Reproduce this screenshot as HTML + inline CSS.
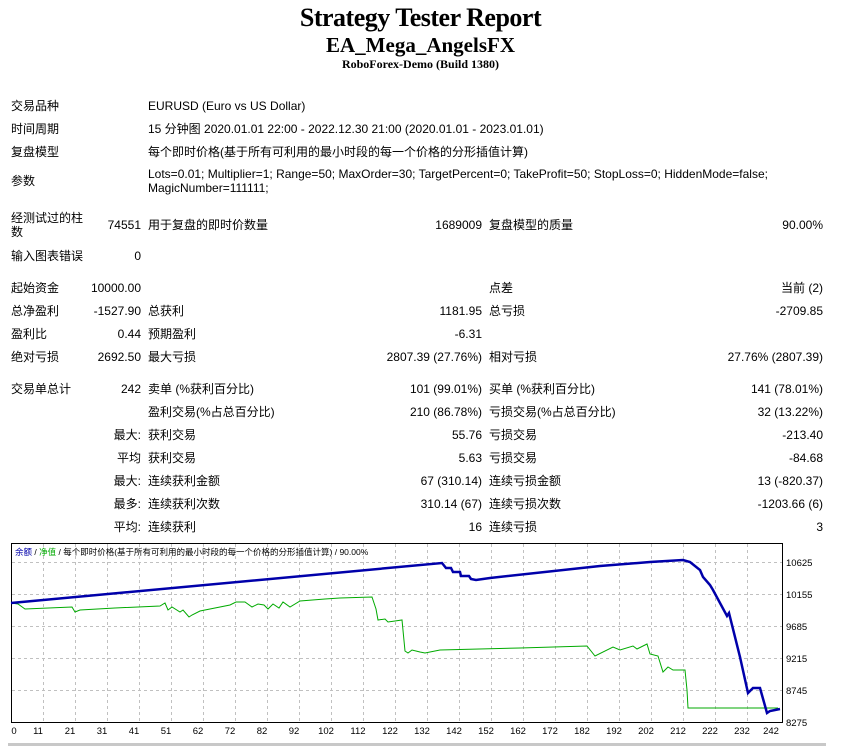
<!DOCTYPE html>
<html><head><meta charset="utf-8">
<style>
body{margin:0;width:841px;height:746px;background:#fff;position:relative;overflow:hidden;font-family:"Liberation Sans","Noto Sans CJK SC",sans-serif;font-size:12px;color:#000}
.l{position:absolute;white-space:nowrap;line-height:14px}
.r{position:absolute;white-space:nowrap;line-height:14px;text-align:right}
.h{position:absolute;left:0;width:841px;text-align:center;font-family:"Liberation Serif",serif;font-weight:bold}
</style></head><body>
<div class="h" style="top:3px;font-size:26px;line-height:30px;letter-spacing:-0.5px">Strategy Tester Report</div>
<div class="h" style="top:33px;font-size:21px;line-height:24px">EA_Mega_AngelsFX</div>
<div class="h" style="top:57px;font-size:12px;line-height:15px">RoboForex-Demo (Build 1380)</div>

<div class="l" style="left:11px;top:99px">交易品种</div><div class="l" style="left:148px;top:99px">EURUSD (Euro vs US Dollar)</div>
<div class="l" style="left:11px;top:122px">时间周期</div><div class="l" style="left:148px;top:122px">15 分钟图 2020.01.01 22:00 - 2022.12.30 21:00 (2020.01.01 - 2023.01.01)</div>
<div class="l" style="left:11px;top:145px">复盘模型</div><div class="l" style="left:148px;top:145px">每个即时价格(基于所有可利用的最小时段的每一个价格的分形插值计算)</div>
<div class="l" style="left:11px;top:174px">参数</div><div class="l" style="left:148px;top:167px">Lots=0.01; Multiplier=1; Range=50; MaxOrder=30; TargetPercent=0; TakeProfit=50; StopLoss=0; HiddenMode=false;<br>MagicNumber=111111;</div>

<div class="l" style="left:11px;top:211px">经测试过的柱<br>数</div><div class="r" style="right:700px;top:218px">74551</div>
<div class="l" style="left:148px;top:218px">用于复盘的即时价数量</div><div class="r" style="right:359px;top:218px">1689009</div>
<div class="l" style="left:489px;top:218px">复盘模型的质量</div><div class="r" style="right:18px;top:218px">90.00%</div>
<div class="l" style="left:11px;top:249px">输入图表错误</div><div class="r" style="right:700px;top:249px">0</div>

<div class="l" style="left:11px;top:281px">起始资金</div><div class="r" style="right:700px;top:281px">10000.00</div>
<div class="l" style="left:489px;top:281px">点差</div><div class="r" style="right:18px;top:281px">当前 (2)</div>
<div class="l" style="left:11px;top:304px">总净盈利</div><div class="r" style="right:700px;top:304px">-1527.90</div>
<div class="l" style="left:148px;top:304px">总获利</div><div class="r" style="right:359px;top:304px">1181.95</div>
<div class="l" style="left:489px;top:304px">总亏损</div><div class="r" style="right:18px;top:304px">-2709.85</div>
<div class="l" style="left:11px;top:327px">盈利比</div><div class="r" style="right:700px;top:327px">0.44</div>
<div class="l" style="left:148px;top:327px">预期盈利</div><div class="r" style="right:359px;top:327px">-6.31</div>
<div class="l" style="left:11px;top:350px">绝对亏损</div><div class="r" style="right:700px;top:350px">2692.50</div>
<div class="l" style="left:148px;top:350px">最大亏损</div><div class="r" style="right:359px;top:350px">2807.39 (27.76%)</div>
<div class="l" style="left:489px;top:350px">相对亏损</div><div class="r" style="right:18px;top:350px">27.76% (2807.39)</div>

<div class="l" style="left:11px;top:382px">交易单总计</div><div class="r" style="right:700px;top:382px">242</div>
<div class="l" style="left:148px;top:382px">卖单 (%获利百分比)</div><div class="r" style="right:359px;top:382px">101 (99.01%)</div>
<div class="l" style="left:489px;top:382px">买单 (%获利百分比)</div><div class="r" style="right:18px;top:382px">141 (78.01%)</div>
<div class="l" style="left:148px;top:405px">盈利交易(%占总百分比)</div><div class="r" style="right:359px;top:405px">210 (86.78%)</div>
<div class="l" style="left:489px;top:405px">亏损交易(%占总百分比)</div><div class="r" style="right:18px;top:405px">32 (13.22%)</div>
<div class="r" style="right:700px;top:428px">最大:</div><div class="l" style="left:148px;top:428px">获利交易</div><div class="r" style="right:359px;top:428px">55.76</div>
<div class="l" style="left:489px;top:428px">亏损交易</div><div class="r" style="right:18px;top:428px">-213.40</div>
<div class="r" style="right:700px;top:451px">平均</div><div class="l" style="left:148px;top:451px">获利交易</div><div class="r" style="right:359px;top:451px">5.63</div>
<div class="l" style="left:489px;top:451px">亏损交易</div><div class="r" style="right:18px;top:451px">-84.68</div>
<div class="r" style="right:700px;top:474px">最大:</div><div class="l" style="left:148px;top:474px">连续获利金额</div><div class="r" style="right:359px;top:474px">67 (310.14)</div>
<div class="l" style="left:489px;top:474px">连续亏损金额</div><div class="r" style="right:18px;top:474px">13 (-820.37)</div>
<div class="r" style="right:700px;top:497px">最多:</div><div class="l" style="left:148px;top:497px">连续获利次数</div><div class="r" style="right:359px;top:497px">310.14 (67)</div>
<div class="l" style="left:489px;top:497px">连续亏损次数</div><div class="r" style="right:18px;top:497px">-1203.66 (6)</div>
<div class="r" style="right:700px;top:520px">平均:</div><div class="l" style="left:148px;top:520px">连续获利</div><div class="r" style="right:359px;top:520px">16</div>
<div class="l" style="left:489px;top:520px">连续亏损</div><div class="r" style="right:18px;top:520px">3</div>

<svg style="position:absolute;left:0;top:0" width="841" height="746">
<g stroke="#c0c0c0" stroke-dasharray="3,3" stroke-width="1">
<line x1="12" y1="562.5" x2="782" y2="562.5"/><line x1="12" y1="594.5" x2="782" y2="594.5"/><line x1="12" y1="626.5" x2="782" y2="626.5"/><line x1="12" y1="658.5" x2="782" y2="658.5"/><line x1="12" y1="690.5" x2="782" y2="690.5"/>
<line x1="43.5" y1="544" x2="43.5" y2="722"/><line x1="75.5" y1="544" x2="75.5" y2="722"/><line x1="107.5" y1="544" x2="107.5" y2="722"/><line x1="139.5" y1="544" x2="139.5" y2="722"/><line x1="171.5" y1="544" x2="171.5" y2="722"/><line x1="203.5" y1="544" x2="203.5" y2="722"/><line x1="235.5" y1="544" x2="235.5" y2="722"/><line x1="267.5" y1="544" x2="267.5" y2="722"/><line x1="299.5" y1="544" x2="299.5" y2="722"/><line x1="331.5" y1="544" x2="331.5" y2="722"/><line x1="363.5" y1="544" x2="363.5" y2="722"/><line x1="395.5" y1="544" x2="395.5" y2="722"/><line x1="427.5" y1="544" x2="427.5" y2="722"/><line x1="459.5" y1="544" x2="459.5" y2="722"/><line x1="491.5" y1="544" x2="491.5" y2="722"/><line x1="523.5" y1="544" x2="523.5" y2="722"/><line x1="555.5" y1="544" x2="555.5" y2="722"/><line x1="587.5" y1="544" x2="587.5" y2="722"/><line x1="619.5" y1="544" x2="619.5" y2="722"/><line x1="651.5" y1="544" x2="651.5" y2="722"/><line x1="683.5" y1="544" x2="683.5" y2="722"/><line x1="715.5" y1="544" x2="715.5" y2="722"/><line x1="747.5" y1="544" x2="747.5" y2="722"/>
</g>
<rect x="11.5" y="543.5" width="771" height="179" fill="none" stroke="#000" stroke-width="1"/>
<polyline fill="none" stroke="#00aa00" stroke-width="1" points="11,603 18,604 25,609 72,607 75,612 80,610 115,608 160,606 165,603 168,610 172,607 180,612 183,610 189,617 192,615 200,611 230,605 236,602 245,602 252,607 258,604 264,605 268,609 273,604 279,608 283,602 290,607 300,601 325,599 340,598 372,597 376,609 378,620 385,619 388,622 395,621 402,620 405,651 408,653 412,650 420,652 425,653 440,650 520,648 587,646 595,656 613,647 620,650 633,646 637,649 647,644 650,654 658,656 663,672 668,667 673,670 685,670 687,690 688,708 778,708"/>
<polyline fill="none" stroke="#0000aa" stroke-width="2.5" points="11,603 442,563 446,568 451,568 453,572 460,572 461,576 469,576 471,579 476,580 490,578 600,566 650,562 683,560 690,562 700,570 703,577 710,585 713,590 727,616 729,613 740,657 748,693 753,688 760,688 767,713 770,711 780,709"/>
<g font-family="Liberation Sans, Noto Sans CJK SC, sans-serif" font-size="9.5" fill="#000">
<text x="786" y="566">10625</text><text x="786" y="598">10155</text><text x="786" y="630">9685</text><text x="786" y="662">9215</text><text x="786" y="694">8745</text><text x="786" y="726">8275</text>
<g text-anchor="middle">
<text x="14" y="734">0</text><text x="38" y="734">11</text><text x="70" y="734">21</text><text x="102" y="734">31</text><text x="134" y="734">41</text><text x="166" y="734">51</text><text x="198" y="734">62</text><text x="230" y="734">72</text><text x="262" y="734">82</text><text x="294" y="734">92</text><text x="326" y="734">102</text><text x="358" y="734">112</text><text x="390" y="734">122</text><text x="422" y="734">132</text><text x="454" y="734">142</text><text x="486" y="734">152</text><text x="518" y="734">162</text><text x="550" y="734">172</text><text x="582" y="734">182</text><text x="614" y="734">192</text><text x="646" y="734">202</text><text x="678" y="734">212</text><text x="710" y="734">222</text><text x="742" y="734">232</text><text x="771" y="734">242</text>
</g>
<text x="15" y="555" font-size="8.5"><tspan fill="#0000aa">余额</tspan> / <tspan fill="#00aa00">净值</tspan> / 每个即时价格(基于所有可利用的最小时段的每一个价格的分形插值计算) / 90.00%</text>
</g>
<rect x="8" y="743" width="818" height="3" fill="#c8c8c8"/>
</svg>
</body></html>
